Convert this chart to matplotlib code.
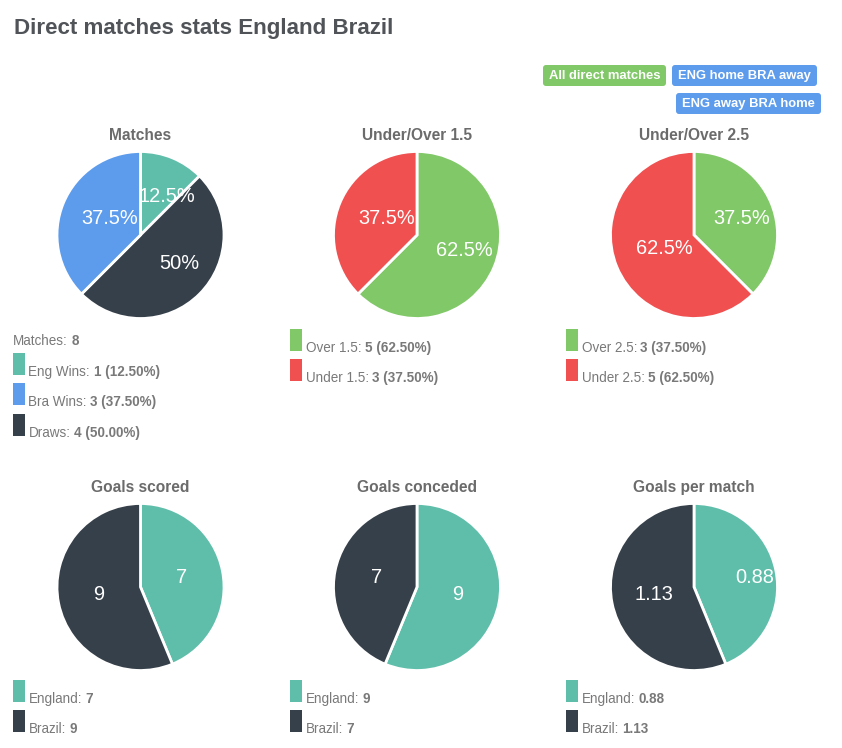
import matplotlib
matplotlib.use('Agg')
import matplotlib.pyplot as plt
from matplotlib.patches import FancyBboxPatch, Rectangle
import numpy as np

plt.rcParams['font.family'] = ['Liberation Sans', 'DejaVu Sans']

TEAL = '#5fbeaa'
DARK = '#36404a'
BLUE = '#5d9cec'
GREEN = '#81c868'
RED = '#f05050'

# dados
titles = ['Matches', 'Under/Over 1.5', 'Under/Over 2.5',
          'Goals scored', 'Goals conceded', 'Goals per match']
values = [[1, 4, 3], [5, 3], [3, 5], [7, 9], [9, 7], [0.88, 1.13]]
pie_labels = [['12.5%', '50%', '37.5%'], ['62.5%', '37.5%'], ['37.5%', '62.5%'],
              ['7', '9'], ['9', '7'], ['0.88', '1.13']]
colors = [[TEAL, DARK, BLUE], [GREEN, RED], [GREEN, RED],
          [TEAL, DARK], [TEAL, DARK], [TEAL, DARK]]
legend_names = [['Eng Wins:', 'Bra Wins:', 'Draws:'],
                ['Over 1.5:', 'Under 1.5:'], ['Over 2.5:', 'Under 2.5:'],
                ['England:', 'Brazil:'], ['England:', 'Brazil:'], ['England:', 'Brazil:']]
legend_values = [['1 (12.50%)', '3 (37.50%)', '4 (50.00%)'],
                 ['5 (62.50%)', '3 (37.50%)'], ['3 (37.50%)', '5 (62.50%)'],
                 ['7', '9'], ['9', '7'], ['0.88', '1.13']]
legend_colors = [[TEAL, BLUE, DARK], [GREEN, RED], [GREEN, RED],
                 [TEAL, DARK], [TEAL, DARK], [TEAL, DARK]]
buttons = ['All direct matches', 'ENG home BRA away', 'ENG away BRA home']

# layout em pixels
W, H = 842, 748
centers_x = [140.5, 417, 694, 140.5, 417, 694]
centers_y = [235, 235, 235, 587, 587, 587]
R = 83.5
legend_x = [13, 290, 566, 13, 290, 566]
legend_y = [[353, 383, 414], [329, 359], [329, 359], [680, 710], [680, 710], [680, 710]]
# deslocamento dos rótulos em relação à posição radial
label_shift = [[(7.5, 8), (3.5, -7), (15.5, 3)],
               [(1, -4), (16, 3)], [(1, 3), (17, -6)],
               [(-8, 0), (7, -2)], [(-8, -2), (9, 0)], [(12, 0), (9, -2)]]
button_boxes = [(543, 65, 123, 21, GREEN), (672, 65, 145, 21, BLUE), (676, 93, 145, 21, BLUE)]

fig = plt.figure(figsize=(W / 100, H / 100), dpi=100)
bg = fig.add_axes([0, 0, 1, 1], zorder=10)
bg.set_xlim(0, W)
bg.set_ylim(H, 0)
bg.axis('off')


def px(size):
    return size * 0.72


def mixed_text(x, y, name, value):
    t = bg.text(x, y, name, fontsize=px(13.5), color='#797979', va='baseline')
    width = t.get_window_extent(fig.canvas.get_renderer()).width
    bg.text(x + width + 3.5, y, value, fontsize=px(13.5), color='#797979',
            fontweight='bold', va='baseline')


bg.text(14, 34, 'Direct matches stats England Brazil', fontsize=px(22.4),
        fontweight='bold', color='#505458', va='baseline')

for label, (x, y, w, h, c) in zip(buttons, button_boxes):
    bg.add_patch(FancyBboxPatch((x + 3, y + 3), w - 6, h - 6,
                                boxstyle='round,pad=3,rounding_size=3',
                                fc=c, ec='none', mutation_aspect=1))
    bg.text(x + w / 2, y + h / 2 + 0.5, label, fontsize=px(13), color='white',
            fontweight='bold', ha='center', va='center')

for i, title in enumerate(titles):
    cx, cy = centers_x[i], centers_y[i]
    ax = fig.add_axes([(cx - R - 2) / W, 1 - (cy + R + 2) / H, (2 * R + 4) / W, (2 * R + 4) / H])
    wedges, _ = ax.pie(values[i], colors=colors[i], startangle=90, counterclock=False,
                       radius=R, wedgeprops={'edgecolor': 'white', 'linewidth': 2})
    ax.set_xlim(-R - 2, R + 2)
    ax.set_ylim(-R - 2, R + 2)
    ax.set_aspect('equal')

    for wedge, text, shift in zip(wedges, pie_labels[i], label_shift[i]):
        ang = np.deg2rad((wedge.theta1 + wedge.theta2) / 2)
        bg.text(cx + 50 * np.cos(ang) + shift[0], cy - 50 * np.sin(ang) + shift[1], text,
                fontsize=px(20), color='white', ha='center', va='center', zorder=5)

    bg.text(cx, cy - 100, title, fontsize=px(15.5), fontweight='bold', color='#6b6b6b',
            ha='center', va='center')

    for name, val, c, y in zip(legend_names[i], legend_values[i], legend_colors[i], legend_y[i]):
        bg.add_patch(Rectangle((legend_x[i], y), 12, 22, fc=c, ec='none'))
        mixed_text(legend_x[i] + 15.5, y + 23, name, val)

mixed_text(13, 345, 'Matches:', '8')

fig.savefig('out.png', dpi=100)
